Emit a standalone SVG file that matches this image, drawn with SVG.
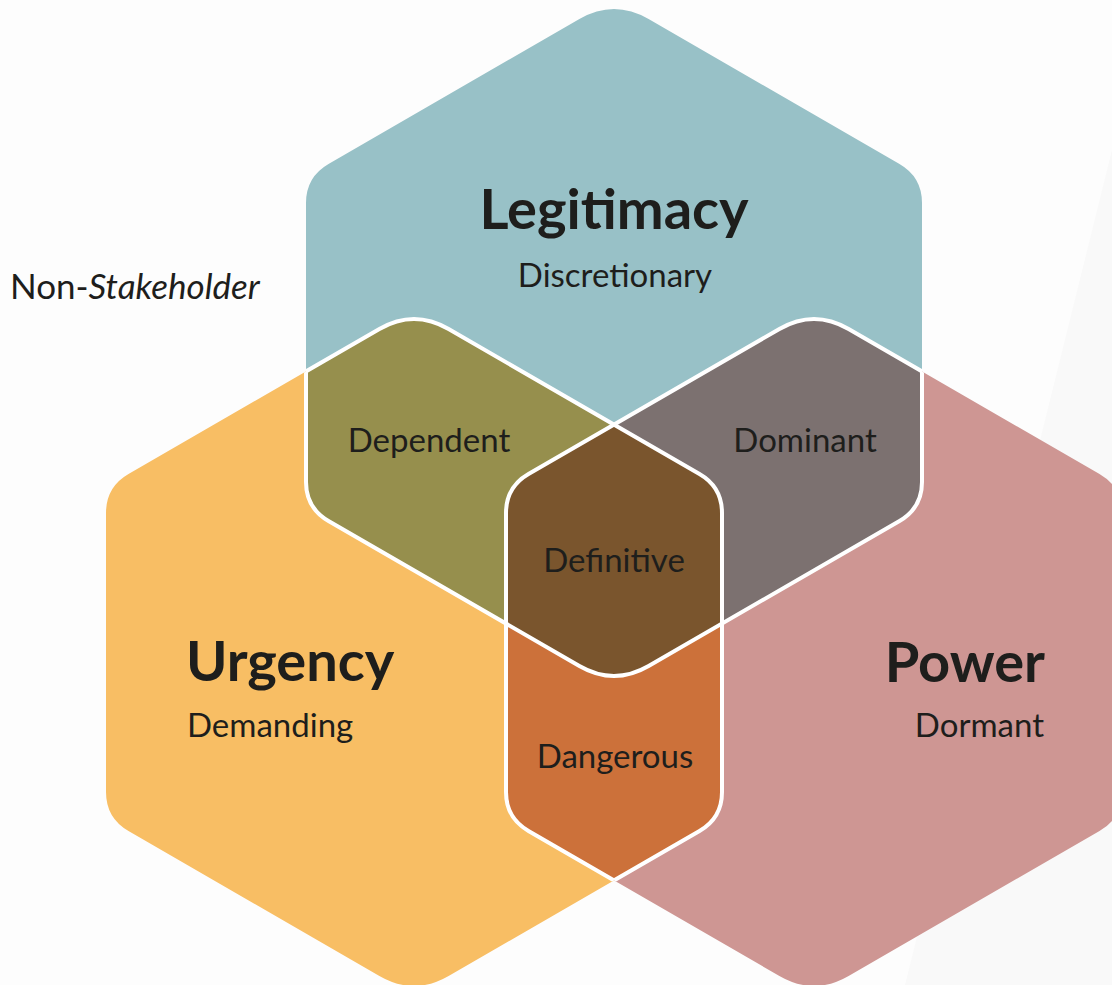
<svg xmlns="http://www.w3.org/2000/svg" xmlns:xlink="http://www.w3.org/1999/xlink" width="1112" height="985" viewBox="0 0 1112 985">
  <style>
    text { font-family: Lato, "Open Sans", "Liberation Sans", sans-serif; fill: #1E1E1C; }
    .title { font-size: 56px; font-weight: 700; }
    .sub { font-size: 33px; font-weight: 400; }
    .mid { text-anchor: middle; }
    .end { text-anchor: end; }
    .edge { fill: none; stroke: #FFFFFF; stroke-width: 4; stroke-linejoin: round; }
  </style>
  <defs>
    <path id="hexL" d="M 648.6,19 L 899.5,164 Q 922,177 922,203 L 922,482 Q 922,508 899.5,521 L 648.6,666 Q 614,686 579.4,666 L 328.5,521 Q 306,508 306,482 L 306,203 Q 306,177 328.5,164 L 579.4,19 Q 614,-1 648.6,19 Z"/>
    <path id="hexU" d="M 448.6,329 L 699.5,474 Q 722,487 722,513 L 722,792 Q 722,818 699.5,831 L 448.6,976 Q 414,996 379.4,976 L 128.5,831 Q 106,818 106,792 L 106,513 Q 106,487 128.5,474 L 379.4,329 Q 414,309 448.6,329 Z"/>
    <path id="hexP" d="M 848.6,329 L 1099.5,474 Q 1122,487 1122,513 L 1122,792 Q 1122,818 1099.5,831 L 848.6,976 Q 814,996 779.4,976 L 528.5,831 Q 506,818 506,792 L 506,513 Q 506,487 528.5,474 L 779.4,329 Q 814,309 848.6,329 Z"/>
    <clipPath id="inL"><use href="#hexL"/></clipPath>
    <clipPath id="inU"><use href="#hexU"/></clipPath>
    <clipPath id="inUP"><use href="#hexU"/><use href="#hexP"/></clipPath>
    <clipPath id="inLP"><use href="#hexL"/><use href="#hexP"/></clipPath>
    <clipPath id="inLU"><use href="#hexL"/><use href="#hexU"/></clipPath>
  </defs>

  <rect x="0" y="0" width="1112" height="985" fill="#FDFDFD"/>
  <polygon points="1112,150 1112,985 905,985" fill="#F9F9F9"/>

  <g id="non-stakeholder">
    <text x="10" y="299" font-size="35">Non-<tspan font-style="italic">Stakeholder</tspan></text>
  </g>

  <g id="urgency">
    <use href="#hexU" fill="#F8BE64"/>
    <text class="title" x="186" y="681">Urgency</text>
    <text class="sub" x="187" y="737">Demanding</text>
  </g>

  <g id="power">
    <use href="#hexP" fill="#CE9693"/>
    <text class="title end" x="1045" y="682">Power</text>
    <text class="sub end" x="1044" y="737">Dormant</text>
  </g>

  <g id="legitimacy">
    <use href="#hexL" fill="#98C1C7"/>
    <text class="title mid" x="614" y="229">Legitimacy</text>
    <text class="sub mid" x="615" y="287" font-size="33.5">Discretionary</text>
  </g>

  <g id="dependent">
    <use href="#hexU" fill="#968F4D" clip-path="url(#inL)"/>
    <text class="sub mid" x="429" y="452">Dependent</text>
  </g>

  <g id="dominant">
    <use href="#hexP" fill="#7C7170" clip-path="url(#inL)"/>
    <text class="sub mid" x="805" y="452">Dominant</text>
  </g>

  <g id="dangerous">
    <use href="#hexP" fill="#CC713A" clip-path="url(#inU)"/>
    <text class="sub mid" x="615" y="768" font-size="33.5">Dangerous</text>
  </g>

  <g id="definitive">
    <g clip-path="url(#inU)">
      <use href="#hexP" fill="#7A552D" clip-path="url(#inL)"/>
    </g>
    <text class="sub mid" x="614" y="572">Definitive</text>
  </g>

  <g id="outlines">
    <use href="#hexL" class="edge" clip-path="url(#inUP)"/>
    <use href="#hexU" class="edge" clip-path="url(#inLP)"/>
    <use href="#hexP" class="edge" clip-path="url(#inLU)"/>
  </g>
</svg>
